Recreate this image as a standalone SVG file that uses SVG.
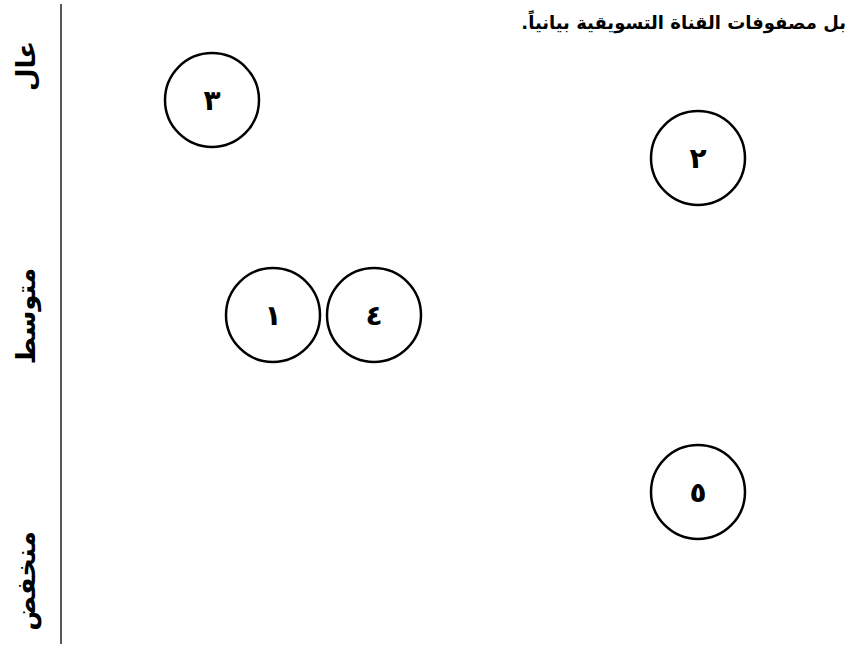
<svg xmlns="http://www.w3.org/2000/svg" width="849" height="648" viewBox="0 0 849 648">
<style>
.c{fill:none;stroke:#000;stroke-width:2.5}
.n{font-family:"DejaVu Sans","Noto Sans",sans-serif;font-weight:bold;font-size:28px;text-anchor:middle;fill:#000}
.lab{font-family:"DejaVu Sans","Noto Sans",sans-serif;font-weight:bold;font-size:26px;text-anchor:middle;fill:#000}
.t{font-family:"DejaVu Sans","Noto Sans",sans-serif;font-weight:bold;font-size:18px;fill:#000}
</style>
<rect width="849" height="648" fill="#fff"/>
<g id="title">
<text class="t" x="846" y="29" direction="rtl" text-anchor="start">بل مصفوفات القناة التسويقية بيانياً.</text>
</g>
<g id="axis">
<line x1="61" y1="4" x2="61" y2="644" stroke="#000" stroke-width="1.3"/>
<text class="lab" transform="translate(35,66) rotate(-90)">عال</text>
<text class="lab" transform="translate(35,316) rotate(-90)">متوسط</text>
<text class="lab" transform="translate(35,581) rotate(-90)">منخفض</text>
</g>
<g id="node3"><circle class="c" cx="212" cy="100" r="47"/><text class="n" x="212" y="110">٣</text></g>
<g id="node2"><circle class="c" cx="698" cy="158" r="47"/><text class="n" x="698" y="168">٢</text></g>
<g id="node1"><circle class="c" cx="273" cy="315" r="47"/><text class="n" x="273" y="325">١</text></g>
<g id="node4"><circle class="c" cx="374" cy="315" r="47"/><text class="n" x="374" y="325">٤</text></g>
<g id="node5"><circle class="c" cx="698" cy="492" r="47"/><text class="n" x="698" y="502">٥</text></g>
<g id="connectors"></g>
</svg>
